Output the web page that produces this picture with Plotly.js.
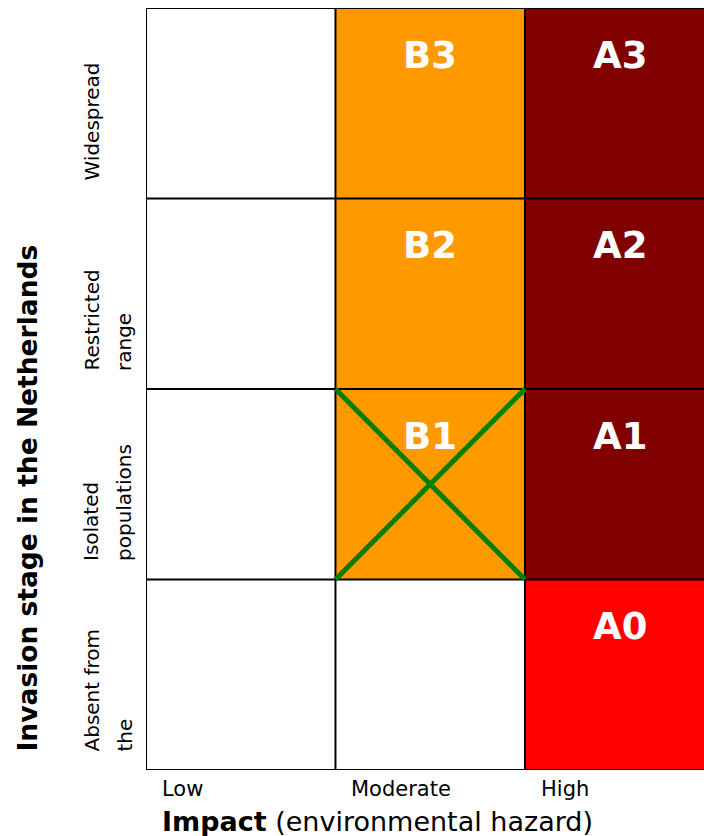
<!DOCTYPE html>
<html>
<head>
<meta charset="utf-8">
<script src="https://cdn.plot.ly/plotly-3.0.1.min.js"></script>
<style>html,body{margin:0;padding:0;background:#fff;}#chart{width:704px;height:836px;}</style>
</head>
<body>
<div id="chart"></div>
<script>
// Categories
const impactLevels = ['Low', 'Moderate', 'High'];
const stageLabels = [
  ['Absent from', 'the'],
  ['Isolated', 'populations'],
  ['Restricted', 'range'],
  ['Widespread']
];
// Category codes per cell (rows bottom->top, columns Low/Moderate/High)
// 0 = none, 1 = B (moderate), 2 = A (high, present), 3 = A0 (high, absent)
const cellCodes = [
  [0, 0, 3],
  [0, 1, 2],
  [0, 1, 2],
  [0, 1, 2]
];
const cellLabels = [
  ['', '', 'A0'],
  ['', 'B1', 'A1'],
  ['', 'B2', 'A2'],
  ['', 'B3', 'A3']
];
const codeColors = ['#ffffff', '#ff9900', '#800000', '#ff0000'];
// crossed-out cells [column index, row index]
const crossedCells = [[1, 1]];

const nCols = impactLevels.length, nRows = stageLabels.length;
const xCenters = impactLevels.map((_, i) => i + 0.5);
const yCenters = stageLabels.map((_, j) => j + 0.5);

const trace = {
  type: 'heatmap',
  x: xCenters, y: yCenters, z: cellCodes,
  zmin: 0, zmax: 3,
  colorscale: codeColors.map((c, i) => [i / (codeColors.length - 1), c]),
  showscale: false, hoverinfo: 'skip'
};

const FONT = 'DejaVu Sans, Verdana, sans-serif';
const shapes = [];
for (let i = 0; i <= nCols; i++) shapes.push({type: 'line', xref: 'x', yref: 'y', x0: i, x1: i, y0: 0, y1: nRows, line: {color: '#000', width: 2}, layer: 'above'});
for (let j = 0; j <= nRows; j++) shapes.push({type: 'line', xref: 'x', yref: 'y', x0: 0, x1: nCols, y0: j, y1: j, line: {color: '#000', width: 2}, layer: 'above'});
crossedCells.forEach(([c, r]) => {
  shapes.push({type: 'line', xref: 'x', yref: 'y', x0: c, x1: c + 1, y0: r + 1, y1: r, line: {color: '#008000', width: 5}, layer: 'above'});
  shapes.push({type: 'line', xref: 'x', yref: 'y', x0: c, x1: c + 1, y0: r, y1: r + 1, line: {color: '#008000', width: 5}, layer: 'above'});
});

const annotations = [];
cellLabels.forEach((row, j) => row.forEach((t, i) => {
  if (!t) return;
  annotations.push({xref: 'x', yref: 'y', x: i + 0.5, y: j + 1, yanchor: 'middle', xanchor: 'center', yshift: -47,
    text: '<b>' + t + '</b>', showarrow: false, font: {family: FONT, size: 37, color: '#ffffff'}});
}));
impactLevels.forEach((t, i) => annotations.push({xref: 'x', yref: 'paper', x: i, y: 0, xanchor: 'left', yanchor: 'middle',
  xshift: 14, yshift: -19, text: t, showarrow: false, font: {family: FONT, size: 21, color: '#000'}}));
annotations.push({xref: 'x', yref: 'paper', x: 0, y: 0, xanchor: 'left', yanchor: 'middle', xshift: 14, yshift: -51,
  text: '<b>Impact</b> (environmental hazard)', showarrow: false, font: {family: FONT, size: 27, color: '#000'}});
stageLabels.forEach((lines, j) => lines.forEach((t, k) => annotations.push({xref: 'paper', yref: 'y', x: 0, y: j,
  xanchor: 'center', yanchor: 'bottom', xshift: -55 + k * 33, yshift: 16, textangle: -90,
  text: t, showarrow: false, font: {family: FONT, size: 20, color: '#000'}})));
annotations.push({xref: 'paper', yref: 'y', x: 0, y: 0, xanchor: 'center', yanchor: 'bottom', xshift: -119, yshift: 16,
  textangle: -90, text: '<b>Invasion stage in the Netherlands</b>', showarrow: false, font: {family: FONT, size: 26.5, color: '#000'}});

const layout = {
  width: 704, height: 836,
  margin: {l: 146, r: 0, t: 8, b: 66},
  paper_bgcolor: '#fff', plot_bgcolor: '#fff',
  xaxis: {range: [0, 2.945], showgrid: false, zeroline: false, showticklabels: false, ticks: '', fixedrange: true},
  yaxis: {range: [0, nRows], showgrid: false, zeroline: false, showticklabels: false, ticks: '', fixedrange: true},
  shapes: shapes, annotations: annotations, showlegend: false
};
Plotly.newPlot('chart', [trace], layout, {displayModeBar: false, staticPlot: true});
</script>
</body>
</html>
